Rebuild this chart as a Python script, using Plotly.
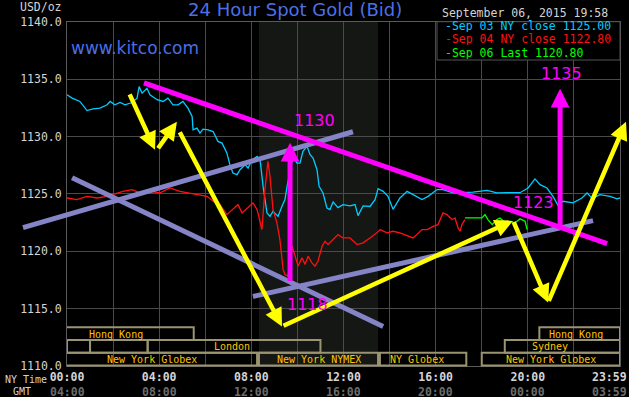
import plotly.graph_objects as go

# ---------------- data ----------------
# Sep 03 NY close (cyan)
sep03_h = [0.00, 0.22, 0.56, 0.87, 1.13, 1.43, 1.74, 1.87, 2.08, 2.30, 2.52, 2.82, 3.04, 3.13, 3.26, 3.47,
           3.60, 3.91, 4.17, 4.38, 4.60, 4.82, 5.03, 5.25, 5.43, 5.47, 5.64, 5.77, 5.90, 6.12, 6.34, 6.55,
           6.73, 6.94, 7.07, 7.20, 7.38, 7.51, 7.73, 7.86, 8.03, 8.25, 8.38, 8.51, 8.68, 8.81, 8.94, 9.16,
           9.33, 9.46, 9.55, 9.68, 9.81, 9.98, 10.11, 10.24, 10.42, 10.55, 10.68, 10.85, 10.94, 11.11,
           11.28, 11.41, 11.55, 11.76, 11.98, 12.28, 12.50, 12.63, 12.85, 13.15, 13.37, 13.50, 13.72,
           13.93, 14.15, 14.45, 14.76, 15.02, 15.41, 15.67, 16.06, 16.32, 16.75, 17.19, 17.62, 18.23,
           18.66, 19.10, 19.66, 20.01, 20.31, 20.53, 20.83, 21.09, 21.31, 21.53, 21.96, 22.35, 22.57,
           22.79, 23.13, 23.57, 23.87, 24.00]
sep03_p = [1133.63, 1133.34, 1133.05, 1132.26, 1132.40, 1132.47, 1132.76, 1133.05, 1132.76, 1132.96,
           1132.76, 1132.96, 1133.34, 1134.35, 1133.77, 1134.20, 1133.63, 1133.20, 1133.05, 1133.34,
           1132.76, 1132.76, 1133.05, 1132.47, 1131.74, 1130.58, 1130.73, 1130.29, 1130.64, 1130.58,
           1130.43, 1129.57, 1129.42, 1128.55, 1127.54, 1126.81, 1126.67, 1127.10, 1127.54, 1127.25,
           1127.97, 1128.26, 1127.97, 1125.65, 1123.34, 1123.04, 1123.48, 1123.04, 1123.91, 1124.50,
           1125.65, 1126.81, 1128.26, 1127.68, 1127.68, 1128.70, 1129.13, 1128.41, 1128.12, 1127.10,
           1125.65, 1125.08, 1123.77, 1123.63, 1124.30, 1123.80, 1124.06, 1123.95, 1124.06, 1123.10,
           1123.95, 1123.90, 1124.50, 1125.45, 1125.22, 1124.78, 1123.65, 1124.64, 1125.22, 1124.93,
           1124.50, 1124.78, 1125.37, 1125.37, 1125.08, 1125.10, 1125.15, 1125.30, 1125.08, 1125.10,
           1125.10, 1125.51, 1126.30, 1125.80, 1125.51, 1124.78, 1124.00, 1124.35, 1124.21, 1124.64,
           1125.08, 1124.60, 1124.93, 1124.78, 1124.56, 1124.64]

# Sep 04 NY close (red)
sep04_h = [0.00, 0.43, 0.87, 1.30, 1.74, 2.00, 2.43, 2.82, 3.17, 3.60, 4.04, 4.47, 4.90, 5.25, 5.64,
           5.77, 6.08, 6.34, 6.64, 6.94, 7.20, 7.42, 7.60, 7.81, 8.07, 8.25, 8.38, 8.46, 8.59, 8.72,
           8.81, 8.94, 9.11, 9.24, 9.38, 9.46, 9.59, 9.77, 9.90, 10.03, 10.20, 10.33, 10.46, 10.63,
           10.76, 10.89, 11.07, 11.20, 11.33, 11.55, 11.76, 11.98, 12.28, 12.59, 12.85, 13.15, 13.45,
           13.59, 13.89, 14.15, 14.45, 15.02, 15.41, 15.63, 15.89, 16.10, 16.32, 16.49, 16.71, 16.84,
           16.97, 17.06, 17.14, 17.27]
sep04_p = [1124.64, 1124.50, 1124.78, 1124.64, 1124.78, 1124.93, 1125.22, 1125.37, 1125.08, 1125.22,
           1125.08, 1125.51, 1125.22, 1125.08, 1124.93, 1124.93, 1124.78, 1124.35, 1124.06, 1123.19,
           1123.63, 1124.06, 1123.34, 1123.77, 1124.21, 1123.63, 1122.47, 1121.89, 1125.37, 1127.83,
           1126.52, 1123.63, 1122.47, 1121.02, 1118.41, 1117.97, 1117.83, 1120.43, 1119.57, 1118.70,
           1119.43, 1118.84, 1119.57, 1118.99, 1118.70, 1119.13, 1120.43, 1120.87, 1120.58, 1121.02,
           1121.45, 1121.16, 1121.16, 1120.58, 1120.73, 1121.16, 1121.60, 1121.89, 1121.60, 1121.74,
           1121.60, 1121.16, 1121.89, 1121.89, 1122.17, 1122.32, 1123.34, 1123.19, 1122.76, 1122.90,
           1122.03, 1121.74, 1122.32, 1122.76]

# Sep 06 Last (green)
sep06_h = [17.27, 18.01, 18.14, 18.27, 18.45, 18.66, 18.79, 19.01, 19.23, 19.44, 19.66, 19.88, 19.97]
sep06_p = [1122.90, 1122.90, 1123.19, 1122.76, 1122.32, 1122.76, 1122.90, 1122.52, 1122.61, 1122.47,
           1122.82, 1122.61, 1121.89]

series_names = ["Sep 03 NY close 1125.00", "Sep 04 NY close 1122.80", "Sep 06 Last 1120.80"]

y_ticks = [1110, 1115, 1120, 1125, 1130, 1135, 1140]
x_grid = [0, 2, 4, 6, 8, 10, 12, 14, 16, 18, 20, 22, 24]
ny_labels = {0: "00:00", 4: "04:00", 8: "08:00", 12: "12:00", 16: "16:00", 20: "20:00"}
gmt_labels = {0: "04:00", 4: "08:00", 8: "12:00", 12: "16:00", 16: "20:00", 20: "00:00"}
last_ny, last_gmt = "23:59", "03:59"

# trading sessions: (label, start hour, end hour, row, label hour)
sessions = [
    ("Hong Kong", -1.25, 5.5, 1, 2.13),
    ("Hong Kong", 20.5, 24.0, 1, 22.07),
    ("", 0.0, 1.0, 2, None),
    ("", 1.0, 3.5, 2, None),
    ("London", 3.5, 11.0, 2, 7.17),
    ("Sydney", 19.0, 24.0, 2, 20.96),
    ("New York Globex", -0.95, 8.25, 3, 3.67),
    ("New York NYMEX", 8.33, 13.5, 3, 10.94),
    ("NY Globex", 13.58, 17.33, 3, 15.21),
    ("New York Globex", 18.0, 24.0, 3, 21.02),
]
nymex_shade = (8.33, 13.5)

# hand-drawn annotations (hour, price)
magenta_trend = [(3.34, 1134.67), (23.44, 1120.67)]
lavender_lines = [
    [(-1.91, 1122.06), (12.41, 1130.41)],
    [(0.22, 1126.41), (13.72, 1113.45)],
    [(8.07, 1116.06), (22.83, 1122.67)],
]
yellow_arrows = [  # (tail, tip)
    ((2.69, 1133.80), (3.82, 1128.84)),
    ((3.91, 1128.84), (4.77, 1131.28)),
    ((4.86, 1130.50), (9.33, 1113.45)),
    ((9.33, 1113.45), (19.36, 1122.67)),
    ((19.36, 1122.67), (20.88, 1115.54)),
    ((20.88, 1115.54), (24.26, 1131.28)),
]
magenta_arrows = [
    ((9.68, 1117.28), (9.68, 1129.45)),
    ((21.40, 1122.15), (21.40, 1134.15)),
]
magenta_texts = [("1130", 10.76, 1131.37), ("1118", 10.42, 1115.37),
                 ("1123", 20.23, 1124.23), ("1135", 21.44, 1135.45)]

# ---------------- layout geometry ----------------
W, H = 629, 397
PL, PR, PT, PB = 67, 620, 21.7, 366
X_RANGE = [0, 24]
Y_RANGE = [1110, 1140]


def fx(px):
    return px / W


def fy(py):
    return 1 - py / H


xd = [fx(PL), fx(PR)]
yd = [fy(PB), fy(PT)]
xs = (X_RANGE[1] - X_RANGE[0]) / (xd[1] - xd[0])
ys = (Y_RANGE[1] - Y_RANGE[0]) / (yd[1] - yd[0])
x2_range = [X_RANGE[0] - xd[0] * xs, X_RANGE[1] + (1 - xd[1]) * xs]
y2_range = [Y_RANGE[0] - yd[0] * ys, Y_RANGE[1] + (1 - yd[1]) * ys]

MONO = "DejaVu Sans Mono"
GRID = "#4a4a4a"
CYAN, RED, GREEN = "#00ccff", "#ff1010", "#00ff00"
MAGENTA, YELLOW, LAVENDER = "#ff00ff", "#ffff00", "#8484c6"
BOX_LINE, BOX_TEXT = "#9a9470", "#ffc400"
LIGHT, DIM = "#d4d4d4", "#6c6c6c"

fig = go.Figure()
fig.add_trace(go.Scatter(x=sep03_h, y=sep03_p, mode="lines", line=dict(color=CYAN, width=1.3),
                         name=series_names[0], showlegend=False))
fig.add_trace(go.Scatter(x=sep04_h, y=sep04_p, mode="lines", line=dict(color=RED, width=1.3),
                         name=series_names[1], showlegend=False))
fig.add_trace(go.Scatter(x=sep06_h, y=sep06_p, mode="lines", line=dict(color=GREEN, width=1.3),
                         name=series_names[2], showlegend=False))
fig.add_trace(go.Scatter(x=[], y=[], xaxis="x2", yaxis="y2", showlegend=False))

tickvals = x_grid
ticktext = [f"<b>{ny_labels[v]}</b>" if v in ny_labels else "" for v in x_grid]

shapes = []
shapes.append(dict(type="rect", xref="x", yref="y domain", x0=nymex_shade[0], x1=nymex_shade[1],
                   y0=0, y1=1, fillcolor="#141714", line=dict(width=0), layer="below"))

rows = {1: (327.3, 340.0), 2: (340.0, 352.7), 3: (352.7, 365.5)}
annotations = []
for label, s, e, row, lh in sessions:
    r0, r1 = rows[row]
    shapes.append(dict(type="rect", xref="x", yref="paper", x0=s, x1=e, y0=fy(r1), y1=fy(r0),
                       line=dict(color=BOX_LINE, width=2), fillcolor="rgba(0,0,0,0)", layer="above"))
    if label:
        annotations.append(dict(x=lh, y=fy((r0 + r1) / 2 + 0.5), xref="x", yref="paper", text=label,
                                showarrow=False, xanchor="center", yanchor="middle", height=11,
                                font=dict(family=MONO, size=10, color=BOX_TEXT)))

for ln in lavender_lines:
    shapes.append(dict(type="line", xref="x2", yref="y2", x0=ln[0][0], y0=ln[0][1], x1=ln[1][0],
                       y1=ln[1][1], line=dict(color=LAVENDER, width=5), layer="above"))
shapes.append(dict(type="line", xref="x2", yref="y2", x0=magenta_trend[0][0], y0=magenta_trend[0][1],
                   x1=magenta_trend[1][0], y1=magenta_trend[1][1], line=dict(color=MAGENTA, width=5),
                   layer="above"))

# legend box
shapes.append(dict(type="rect", xref="paper", yref="paper", x0=fx(437), x1=fx(620), y0=fy(60), y1=fy(21.7),
                   fillcolor="#000000", line=dict(color="#555555", width=1), layer="above"))

for tail, tip in magenta_arrows:
    annotations.append(dict(x=tip[0], y=tip[1], ax=tail[0], ay=tail[1], xref="x2", yref="y2",
                            axref="x2", ayref="y2", text="", showarrow=True, arrowhead=2,
                            arrowsize=0.75, arrowwidth=5, arrowcolor=MAGENTA))
for tail, tip in yellow_arrows:
    annotations.append(dict(x=tip[0], y=tip[1], ax=tail[0], ay=tail[1], xref="x2", yref="y2",
                            axref="x2", ayref="y2", text="", showarrow=True, arrowhead=2,
                            arrowsize=0.8, arrowwidth=4.5, arrowcolor=YELLOW))
for txt, h, p in magenta_texts:
    annotations.append(dict(x=h, y=p, xref="x2", yref="y2", text=txt, showarrow=False,
                            font=dict(family="DejaVu Sans", size=16, color=MAGENTA)))

# GMT row under the NY time tick labels
for v, lab in gmt_labels.items():
    annotations.append(dict(x=v, y=fy(391.5), xref="x", yref="paper", text=f"<b>{lab}</b>",
                            showarrow=False, xanchor="center", yanchor="middle", height=11,
                            font=dict(family=MONO, size=11.5, color=DIM)))

# titles and header texts
annotations.append(dict(x=fx(295), y=fy(9.5), xref="paper", yref="paper", text="24 Hour Spot Gold (Bid)",
                        showarrow=False, xanchor="center", yanchor="middle",
                        font=dict(family="DejaVu Sans", size=18, color="#4d6fe6")))
annotations.append(dict(x=fx(69), y=fy(48), xref="paper", yref="paper", text="www.kitco.com",
                        showarrow=False, xanchor="left", yanchor="middle",
                        font=dict(family="DejaVu Sans", size=17, color="#4a6ee6")))
annotations.append(dict(x=fx(64), y=fy(7), xref="paper", yref="paper", text="USD/oz",
                        showarrow=False, xanchor="right", yanchor="middle",
                        font=dict(family=MONO, size=11.5, color=LIGHT)))
annotations.append(dict(x=fx(610), y=fy(13.5), xref="paper", yref="paper", text="September 06, 2015 19:58",
                        showarrow=False, xanchor="right", yanchor="middle", height=12,
                        font=dict(family=MONO, size=11.5, color=LIGHT)))
for i, (name, col) in enumerate(zip(series_names, [CYAN, RED, GREEN])):
    annotations.append(dict(x=fx(444), y=fy(25.5 + 13.8 * i), xref="paper", yref="paper", text="-" + name,
                            showarrow=False, xanchor="left", yanchor="middle", borderpad=0, height=12,
                            font=dict(family=MONO, size=11.5, color=col)))
annotations.append(dict(x=fx(3), y=fy(379), xref="paper", yref="paper", text="NY Time",
                        showarrow=False, xanchor="left", yanchor="middle",
                        font=dict(family=MONO, size=10, color=LIGHT)))
annotations.append(dict(x=fx(11), y=fy(391.5), xref="paper", yref="paper", text="GMT",
                        showarrow=False, xanchor="left", yanchor="middle", height=11,
                        font=dict(family=MONO, size=10, color=LIGHT)))
annotations.append(dict(x=fx(609), y=fy(377), xref="paper", yref="paper", text=f"<b>{last_ny}</b>",
                        showarrow=False, xanchor="center", yanchor="middle", height=12,
                        font=dict(family=MONO, size=11.5, color=LIGHT)))
annotations.append(dict(x=fx(609), y=fy(391.5), xref="paper", yref="paper", text=f"<b>{last_gmt}</b>",
                        showarrow=False, xanchor="center", yanchor="middle", height=11,
                        font=dict(family=MONO, size=11.5, color=DIM)))

fig.update_layout(
    width=W, height=H, margin=dict(l=0, r=0, t=0, b=0, autoexpand=False),
    paper_bgcolor="#000000", plot_bgcolor="rgba(0,0,0,0)",
    showlegend=False,
    xaxis=dict(domain=xd, range=X_RANGE, tickvals=tickvals, ticktext=ticktext, showgrid=True,
               gridcolor=GRID, gridwidth=1, zeroline=False, showline=True, mirror=True,
               linecolor="#5a5a5a", linewidth=1, ticks="", ticklabelstandoff=0, automargin=False,
               tickfont=dict(family=MONO, size=11.5, color=LIGHT), fixedrange=True),
    yaxis=dict(domain=yd, range=Y_RANGE, tickvals=y_ticks, tickformat=".1f", showgrid=True,
               gridcolor=GRID, gridwidth=1, zeroline=False, showline=True, mirror=True,
               linecolor="#5a5a5a", linewidth=1, ticks="", ticklabelstandoff=2, automargin=False,
               tickfont=dict(family=MONO, size=11.5, color=LIGHT), fixedrange=True),
    xaxis2=dict(domain=[0, 1], range=x2_range, anchor="y2", visible=False, fixedrange=True),
    yaxis2=dict(domain=[0, 1], range=y2_range, anchor="x2", visible=False, fixedrange=True),
    shapes=shapes, annotations=annotations,
)

fig.write_html("out.html", config={"displayModeBar": False})
